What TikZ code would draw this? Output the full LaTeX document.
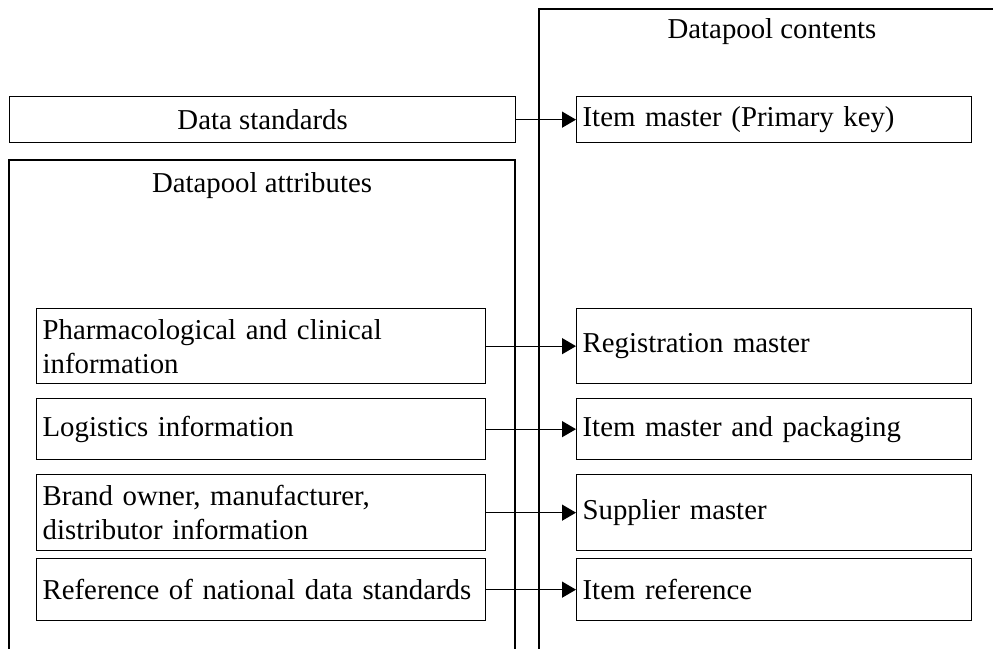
\documentclass[tikz,border=0pt]{standalone}
\usepackage{fontspec}
\setmainfont{Liberation Serif}
\usetikzlibrary{arrows.meta}
\begin{document}
\begin{tikzpicture}[x=1pt,y=-1pt,line width=1.3pt,
  font=\fontsize{28.8}{34}\selectfont,
  lbox/.style={draw,anchor=north west,inner xsep=6pt,inner ysep=0pt,text width=437pt,align=left},
  rbox/.style={draw,anchor=north west,inner xsep=6pt,inner ysep=0pt,text width=383pt,align=left},
  arr/.style={-{Triangle[length=14pt,width=16pt]}}]
\useasboundingbox (0,0) rectangle (993,648);
% outer open frames
\coordinate (abl) at (9,660);
\coordinate (atl) at (9,160);
\coordinate (atr) at (515,160);
\coordinate (abr) at (515,660);
\draw (abl) -- (atl) -- (atr) -- (abr);
\coordinate (cbl) at (539,660);
\coordinate (ctl) at (539,9);
\coordinate (ctr) at (1000,9);
\draw (cbl) -- (ctl) -- (ctr);
\node (attr) at (262,186) {Datapool attributes};
\node (cont) at (772,32) {Datapool contents};
% data standards
\node[draw,anchor=north west,minimum width=506pt,minimum height=46pt,inner sep=0pt] (ds) at (9,96) {Data standards};
\node[rbox,minimum height=46pt] (im) at (576,96) {Item master (Primary key)};
% left boxes
\node[lbox,minimum height=75pt] (ph) at (36,308) {Pharmacological and clinical\\information};
\node[lbox,minimum height=61pt] (lg) at (36,398) {Logistics information};
\node[lbox,minimum height=76pt] (br) at (36,474) {Brand owner, manufacturer,\\distributor information};
\node[lbox,minimum height=62pt] (rf) at (36,558) {Reference of national data standards};
% right boxes
\node[rbox,minimum height=75pt] (rm) at (576,308) {Registration master};
\node[rbox,minimum height=61pt] (ip) at (576,398) {Item master and packaging};
\node[rbox,minimum height=76pt] (sm) at (576,474) {Supplier master};
\node[rbox,minimum height=62pt] (ir) at (576,558) {Item reference};
% arrows
\draw[arr] (ds.east) -- (im.west);
\draw[arr] (ph.east) -- (rm.west);
\draw[arr] (lg.east) -- (ip.west);
\draw[arr] (br.east) -- (sm.west);
\draw[arr] (rf.east) -- (ir.west);
\end{tikzpicture}
\end{document}
